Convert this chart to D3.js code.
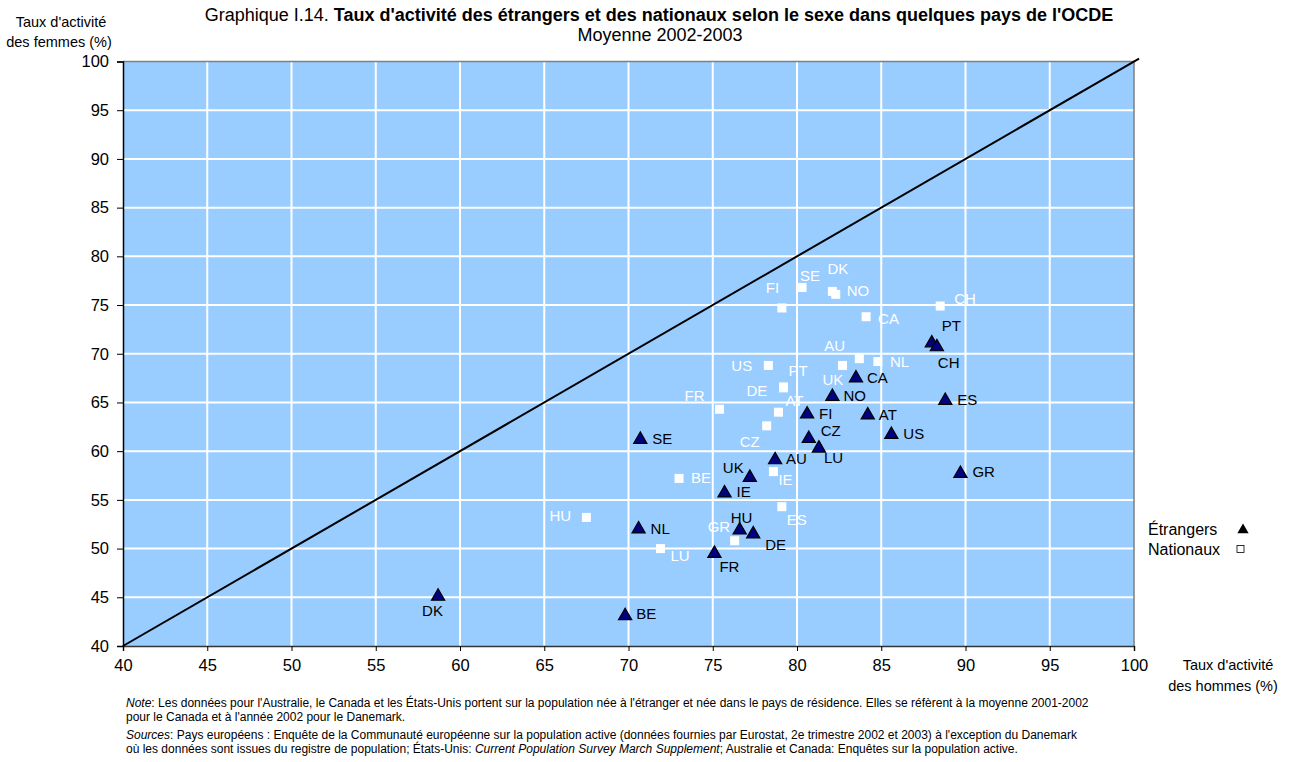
<!DOCTYPE html>
<html><head><meta charset="utf-8">
<script src="https://cdn.jsdelivr.net/npm/d3@7"></script>
<style>
body{margin:0;background:#fff;}
svg{font-family:"Liberation Sans",Arial,sans-serif;}
</style></head>
<body>
<svg id="c" width="1292" height="762"></svg>
<script>
// ---- data ----
const countriesEtr = ["PT","CH","CA","NO","ES","FI","AT","SE","CZ","US","LU","AU","GR","UK","IE","HU","DE","NL","FR","BE","DK"];
const hommesEtr   = [88.0,88.3,83.5,82.1,88.8,80.6,84.2,70.7,80.7,85.6,81.3,78.7,89.7,77.2,75.7,76.6,77.4,70.6,75.1,69.8,58.7];
const femmesEtr   = [71.2,70.8,67.6,65.7,65.3,63.9,63.8,61.3,61.4,61.8,60.4,59.2,57.8,57.4,55.8,52.0,51.6,52.1,49.6,43.2,45.2];

const countriesNat = ["SE","DK","NO","FI","CH","CA","AU","NL","UK","US","PT","DE","AT","FR","CZ","BE","IE","HU","ES","GR","LU"];
const hommesNat   = [80.3,82.1,82.3,79.1,88.5,84.1,83.7,84.8,82.7,78.3,79.2,79.2,78.9,75.4,78.2,73.0,78.6,67.5,79.1,76.3,71.9];
const femmesNat   = [76.8,76.4,76.1,74.7,74.9,73.8,69.5,69.2,68.8,68.8,66.6,66.5,64.0,64.3,62.6,57.2,57.9,53.2,54.3,50.8,50.0];

const xTicks = [40,45,50,55,60,65,70,75,80,85,90,95,100];
const yTicks = [40,45,50,55,60,65,70,75,80,85,90,95,100];

// ---- label placement (pixel offsets from marker) ----
const offEtr = {PT:[10,-16],CH:[1,17],CA:[11,0],NO:[11,0],ES:[12,0],FI:[12,0],AT:[11,0],SE:[12,0],CZ:[12,-7],US:[12,0],
  LU:[5,10],AU:[11,0],GR:[12,-1],UK:[-27,-9],IE:[12,0],HU:[-9,-12],DE:[12,12],NL:[12,0],FR:[5,14],BE:[11,-1],DK:[-16,15]};
const offNat = {SE:[-2,-12],DK:[-5,-23],NO:[11,-4],FI:[-16,-20],CH:[14,-7],CA:[12,2],AU:[-35,-13],NL:[12,0],UK:[-20,14],
  US:[-37,0],PT:[5,-16],DE:[-37,3],AT:[7,-12],FR:[-35,-14],CZ:[-27,16],BE:[12,-1],IE:[5,8],HU:[-37,-2],ES:[5,13],GR:[-27,-14],LU:[10,7]};

const svg = d3.select("#c");
const L=123, R=1134, T=61.5, B=646;
const x = d3.scaleLinear().domain([40,100]).range([L,R]);
const y = d3.scaleLinear().domain([40,100]).range([B,T]);

// plot background
svg.append("rect").attr("x",L).attr("y",T).attr("width",R-L).attr("height",B-T).attr("fill","#99CCFF");

// gridlines
svg.append("g").selectAll("line").data(xTicks.slice(1,-1)).join("line")
  .attr("x1",d=>x(d)).attr("x2",d=>x(d)).attr("y1",T).attr("y2",B).attr("stroke","#fff").attr("stroke-width",2);
svg.append("g").selectAll("line").data(yTicks.slice(1,-1)).join("line")
  .attr("y1",d=>y(d)).attr("y2",d=>y(d)).attr("x1",L).attr("x2",R).attr("stroke","#fff").attr("stroke-width",2);

// top & right border
svg.append("path").attr("d",`M${L},${T}H${R}V${B}`).attr("fill","none").attr("stroke","#808080").attr("stroke-width",1.5);

// axes
const xAxis = svg.append("g").attr("transform",`translate(0,${B})`)
  .call(d3.axisBottom(x).tickValues(xTicks).tickSize(5).tickPadding(8).tickFormat(d3.format("d")));
const yAxis = svg.append("g").attr("transform",`translate(${L},0)`)
  .call(d3.axisLeft(y).tickValues(yTicks).tickSize(6).tickPadding(8).tickFormat(d3.format("d")));
[xAxis,yAxis].forEach(a=>{
  a.select(".domain").attr("stroke","#000").attr("stroke-width",1.5);
  a.selectAll(".tick line").attr("stroke","#000");
  a.selectAll("text").attr("font-size",16.5).attr("fill","#000").attr("font-family","Liberation Sans, Arial, sans-serif");
});
xAxis.select(".domain").attr("stroke","#333");

// diagonal
svg.append("line").attr("x1",x(40)).attr("y1",y(40)).attr("x2",x(100.3)).attr("y2",y(100.3))
  .attr("stroke","#000").attr("stroke-width",2);

// nationaux squares
const nat = countriesNat.map((c,i)=>({c,hx:hommesNat[i],fy:femmesNat[i]}));
const etr = countriesEtr.map((c,i)=>({c,hx:hommesEtr[i],fy:femmesEtr[i]}));

svg.append("g").selectAll("rect").data(nat).join("rect")
  .attr("x",d=>x(d.hx)-4.5).attr("y",d=>y(d.fy)-4.5).attr("width",9).attr("height",9).attr("fill","#fff");
svg.append("g").selectAll("text").data(nat).join("text")
  .attr("x",d=>x(d.hx)+offNat[d.c][0]).attr("y",d=>y(d.fy)+offNat[d.c][1]).attr("dy","0.36em")
  .attr("font-size",15).attr("fill","#fff").text(d=>d.c);

// etrangers triangles
const tri = d3.symbol().type(d3.symbolTriangle).size(75);
svg.append("g").selectAll("path").data(etr).join("path")
  .attr("d",tri).attr("transform",d=>`translate(${x(d.hx)},${y(d.fy)+1})`)
  .attr("fill","#000080").attr("stroke","#000").attr("stroke-width",1.2);
svg.append("g").selectAll("text").data(etr).join("text")
  .attr("x",d=>x(d.hx)+offEtr[d.c][0]).attr("y",d=>y(d.fy)+offEtr[d.c][1]).attr("dy","0.36em")
  .attr("font-size",15).attr("fill","#000").text(d=>d.c);

// titles
const t = svg.append("text").attr("x",659).attr("y",21).attr("text-anchor","middle").attr("font-size",18);
t.append("tspan").text("Graphique I.14. ");
t.append("tspan").attr("font-weight","bold").text("Taux d'activité des étrangers et des nationaux selon le sexe dans quelques pays de l'OCDE");
svg.append("text").attr("x",660).attr("y",41).attr("text-anchor","middle").attr("font-size",18).text("Moyenne 2002-2003");

svg.append("text").attr("x",61).attr("y",27).attr("text-anchor","middle").attr("font-size",14.5).text("Taux d'activité");
svg.append("text").attr("x",59).attr("y",47).attr("text-anchor","middle").attr("font-size",14.5).text("des femmes (%)");
svg.append("text").attr("x",1228).attr("y",670).attr("text-anchor","middle").attr("font-size",14.5).text("Taux d'activité");
svg.append("text").attr("x",1223).attr("y",691).attr("text-anchor","middle").attr("font-size",14.5).text("des hommes (%)");

// legend
svg.append("text").attr("x",1148).attr("y",535).attr("font-size",16).text("Étrangers");
svg.append("path").attr("d",d3.symbol().type(d3.symbolTriangle).size(55)).attr("transform","translate(1243,530)").attr("fill","#000");
svg.append("text").attr("x",1148).attr("y",555).attr("font-size",16).text("Nationaux");
svg.append("rect").attr("x",1237).attr("y",545.5).attr("width",7).attr("height",7).attr("fill","#fff").attr("stroke","#000").attr("stroke-width",0.8);

// notes
const nf = 12;
const n1 = svg.append("text").attr("x",126).attr("y",707).attr("font-size",nf);
n1.append("tspan").attr("font-style","italic").text("Note");
n1.append("tspan").text(": Les données pour l'Australie, le Canada et les États-Unis portent sur la population née à l'étranger et née dans le pays de résidence. Elles se réfèrent à la moyenne 2001-2002");
svg.append("text").attr("x",126).attr("y",721).attr("font-size",nf).text("pour le Canada et à l'année 2002 pour le Danemark.");
const n3 = svg.append("text").attr("x",126).attr("y",739).attr("font-size",nf);
n3.append("tspan").attr("font-style","italic").text("Sources");
n3.append("tspan").text(":  Pays européens : Enquête de la Communauté européenne sur la population active (données fournies par Eurostat, 2e trimestre  2002 et 2003) à l'exception du Danemark");
const n4 = svg.append("text").attr("x",126).attr("y",753).attr("font-size",nf);
n4.append("tspan").text("où les données sont issues du registre de population; États-Unis: ");
n4.append("tspan").attr("font-style","italic").text("Current Population Survey March Supplement");
n4.append("tspan").text("; Australie et Canada: Enquêtes sur la population active.");
</script>
</body></html>
